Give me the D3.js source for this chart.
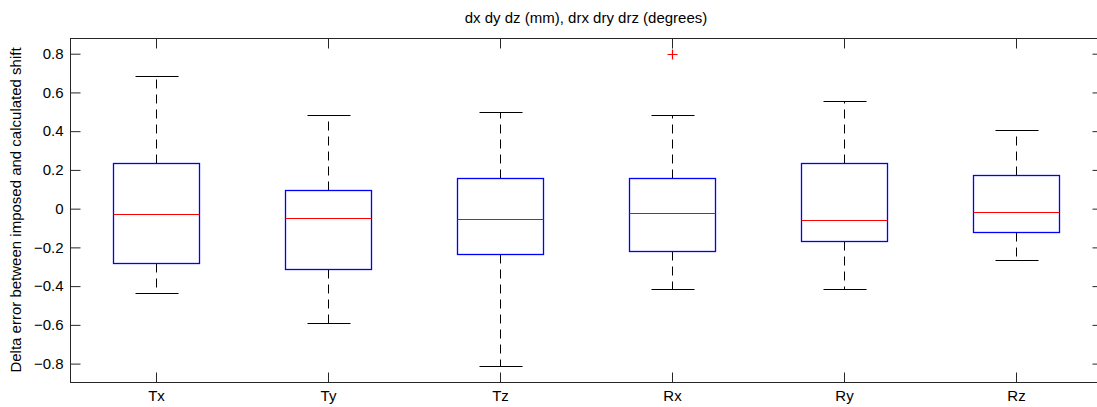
<!DOCTYPE html>
<html><head><meta charset="utf-8">
<script src="https://cdn.jsdelivr.net/npm/d3@7"></script>
<style>
body{margin:0;background:#fff;}
svg{display:block;}
text{font-family:"Liberation Sans",Arial,sans-serif;fill:#000;}
</style></head><body>
<svg id="c" width="1097" height="407"></svg>
<script>
const categories = ["Tx","Ty","Tz","Rx","Ry","Rz"];
const q1Values     = [-0.280,-0.313,-0.235,-0.220,-0.168,-0.120];
const medianValues = [-0.027,-0.049,-0.056,-0.023,-0.059,-0.015];
const q3Values     = [ 0.237, 0.097, 0.158, 0.158, 0.238, 0.172];
const lowWhisker   = [-0.435,-0.592,-0.814,-0.416,-0.416,-0.266];
const highWhisker  = [ 0.685, 0.483, 0.499, 0.483, 0.556, 0.406];
const outlierCats  = ["Rx"];
const outlierVals  = [0.800];
const yTicks = [-0.8,-0.6,-0.4,-0.2,0,0.2,0.4,0.6,0.8];
const titleText = "dx dy dz (mm), drx dry drz (degrees)";
const yLabelText = "Delta error between imposed and calculated shift";

const L=70, R=1102, T=38, B=382;
const svg=d3.select("#c");
const x=d3.scaleLinear().domain([0.5,categories.length+0.5]).range([L,R]);
const y=d3.scaleLinear().domain([-0.895,0.881]).range([B,T]);
const xi=i=>x(i+1);
const px=v=>Math.round(v)+0.5;
const axisColor="#262626";

// frame
svg.append("rect").attr("x",L+0.5).attr("y",T+0.5).attr("width",R-L).attr("height",B-T)
  .attr("fill","none").attr("stroke",axisColor).attr("stroke-width",1);

const tickLen=10;
const yl=svg.append("g").attr("transform",`translate(${L+0.5},0)`)
  .call(d3.axisLeft(y).tickValues(yTicks).tickSize(-tickLen).tickPadding(7).tickFormat(d=>d===0?"0":d3.format(".1f")(d)));
const yr=svg.append("g").attr("transform",`translate(${R+0.5},0)`)
  .call(d3.axisRight(y).tickValues(yTicks).tickSize(-tickLen).tickFormat(""));
const xb=svg.append("g").attr("transform",`translate(0,${B+0.5})`)
  .call(d3.axisBottom(x).tickValues(categories.map((c,i)=>i+1)).tickSize(-tickLen).tickPadding(8).tickFormat((d)=>categories[d-1]));
const xt=svg.append("g").attr("transform",`translate(0,${T+0.5})`)
  .call(d3.axisTop(x).tickValues(categories.map((c,i)=>i+1)).tickSize(-tickLen).tickFormat(""));
[yl,yr,xb,xt].forEach(g=>{
  g.select(".domain").remove();
  g.selectAll(".tick line").attr("stroke",axisColor);
  g.selectAll("text").style("font-size","15px").attr("fill","#000");
});

const halfBox=0.25, halfCap=0.125;
const g=svg.append("g");
categories.forEach((c,i)=>{
  const cx=px(xi(i));
  const x0=px(x(i+1-halfBox)), x1=px(x(i+1+halfBox));
  const yq3=px(y(q3Values[i])), yq1=px(y(q1Values[i]));
  g.append("line").attr("x1",cx).attr("x2",cx).attr("y1",yq3).attr("y2",px(y(highWhisker[i])))
    .attr("stroke","#000").attr("stroke-dasharray","9,6");
  g.append("line").attr("x1",cx).attr("x2",cx).attr("y1",yq1).attr("y2",px(y(lowWhisker[i])))
    .attr("stroke","#000").attr("stroke-dasharray","9,6");
  [highWhisker[i],lowWhisker[i]].forEach(v=>{
    g.append("line").attr("x1",px(x(i+1-halfCap))).attr("x2",px(x(i+1+halfCap)))
      .attr("y1",px(y(v))).attr("y2",px(y(v))).attr("stroke","#000");
  });
  g.append("rect").attr("x",x0).attr("y",yq3)
    .attr("width",x1-x0).attr("height",yq1-yq3)
    .attr("fill","none").attr("stroke","#0000ff").attr("stroke-width",1.3);
  g.append("line").attr("x1",x0).attr("x2",x1)
    .attr("y1",px(y(medianValues[i]))).attr("y2",px(y(medianValues[i]))).attr("stroke","#ff0000").attr("stroke-width",1.2);
});
outlierCats.forEach((c,k)=>{
  const i=categories.indexOf(c);
  const ox=px(xi(i)), oy=px(y(outlierVals[k]));
  g.append("path").attr("d",`M${ox-5},${oy}H${ox+5}M${ox},${oy-5}V${oy+5}`).attr("stroke","#ff0000").attr("stroke-width",1.2);
});

svg.append("text").attr("x",(L+R)/2).attr("y",23).attr("text-anchor","middle").style("font-size","15px").text(titleText);
svg.append("text").attr("transform",`translate(21,${(T+B)/2}) rotate(-90)`).attr("text-anchor","middle").style("font-size","15px").text(yLabelText);
</script></body></html>
